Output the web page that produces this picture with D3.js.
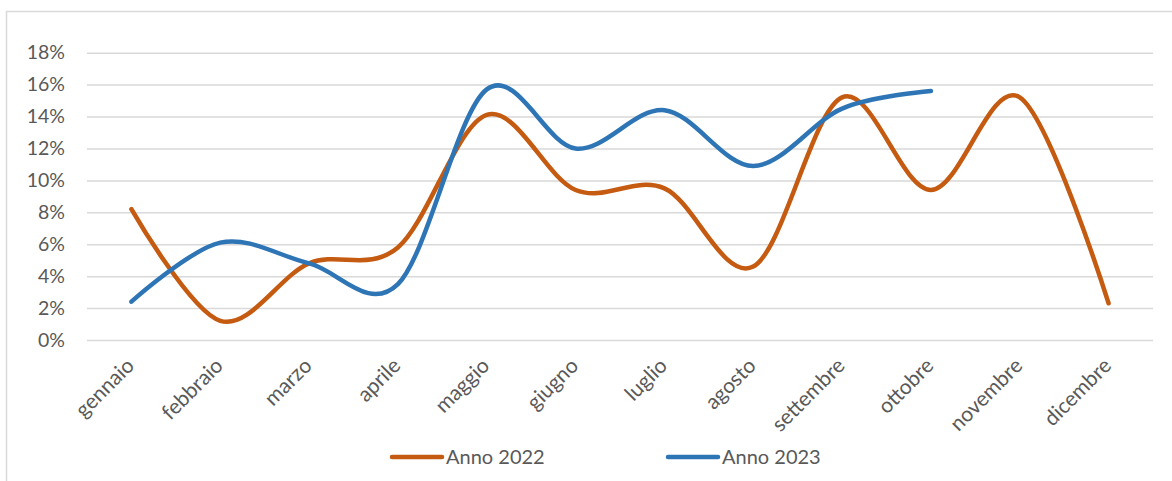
<!DOCTYPE html>
<html>
<head>
<meta charset="utf-8">
<script src="https://cdn.jsdelivr.net/npm/d3@7/dist/d3.min.js"></script>
<style>
  html, body { margin: 0; padding: 0; background: #fff; }
  svg { display: block; font-family: Lato, "Open Sans", sans-serif; }
</style>
</head>
<body>
<svg id="chart" width="1172" height="481"></svg>
<script>
// Monthly share, two years
const months = ["gennaio","febbraio","marzo","aprile","maggio","giugno",
                "luglio","agosto","settembre","ottobre","novembre","dicembre"];
const anno2022 = [8.2, 1.2, 4.8, 5.8, 14.1, 9.4, 9.5, 4.6, 15.2, 9.4, 15.2, 2.3];
const anno2023 = [2.4, 6.1, 4.8, 3.5, 15.7, 12.0, 14.4, 10.9, 14.5, 15.6];
const yTicks = [0, 2, 4, 6, 8, 10, 12, 14, 16, 18];
const seriesNames = ["Anno 2022", "Anno 2023"];
const seriesColors = ["#C55A11", "#2E75B6"];

const svg = d3.select("#chart");
const W = 1172, H = 481;

// outer frame (top and left edges visible)
svg.append("path")
  .attr("d", `M6.5,${H} L6.5,11.5 L${W},11.5`)
  .attr("fill", "none").attr("stroke", "#D9D9D9").attr("stroke-width", 1.5);

const plot = { left: 87, right: 1153, top: 52.7, bottom: 340 };

const x = d3.scaleBand().domain(months).range([plot.left, plot.right]);
const y = d3.scaleLinear().domain([0, 18]).range([plot.bottom, plot.top]);

// gridlines + y labels
const yAxis = d3.axisLeft(y).tickValues(yTicks)
  .tickSize(-(plot.right - plot.left)).tickPadding(22)
  .tickFormat(d => d + "%");
const gy = svg.append("g").attr("transform", `translate(${plot.left},0)`).call(yAxis);
gy.select(".domain").remove();
gy.selectAll(".tick line").attr("stroke", "#D9D9D9").attr("stroke-width", 1.5);
gy.selectAll(".tick text").attr("fill", "#595959").attr("font-size", 19.5)
  .attr("font-family", "Lato, 'Open Sans', sans-serif");

// x labels, rotated
const xAxis = d3.axisBottom(x).tickSize(0).tickPadding(0);
const gx = svg.append("g").attr("transform", `translate(0,${plot.bottom})`).call(xAxis);
gx.select(".domain").remove();
gx.selectAll(".tick text")
  .attr("fill", "#595959").attr("font-size", 21)
  .attr("font-family", "Lato, 'Open Sans', sans-serif")
  .attr("text-anchor", "end")
  .attr("dy", null)
  .attr("transform", "translate(4,27) rotate(-45)");

// lines
const line = d3.line()
  .x((d, i) => x(months[i]) + x.bandwidth() / 2)
  .y(d => y(d))
  .curve(d3.curveCatmullRom.alpha(0));

[anno2022, anno2023].forEach((vals, k) => {
  svg.append("path")
    .datum(vals)
    .attr("d", line)
    .attr("fill", "none")
    .attr("stroke", seriesColors[k])
    .attr("stroke-width", 4.5)
    .attr("stroke-linecap", "round")
    .attr("stroke-linejoin", "round");
});

// legend
const legendX = [392, 668];
const lg = svg.append("g");
seriesNames.forEach((name, k) => {
  const g = lg.append("g").attr("transform", `translate(${legendX[k]},457)`);
  g.append("line").attr("x1", 0).attr("x2", 50).attr("y1", 0).attr("y2", 0)
    .attr("stroke", seriesColors[k]).attr("stroke-width", 4.5).attr("stroke-linecap", "round");
  g.append("text").attr("x", 54).attr("y", 0).attr("dy", "0.35em")
    .attr("fill", "#595959").attr("font-size", 20).text(name);
});
</script>
</body>
</html>
